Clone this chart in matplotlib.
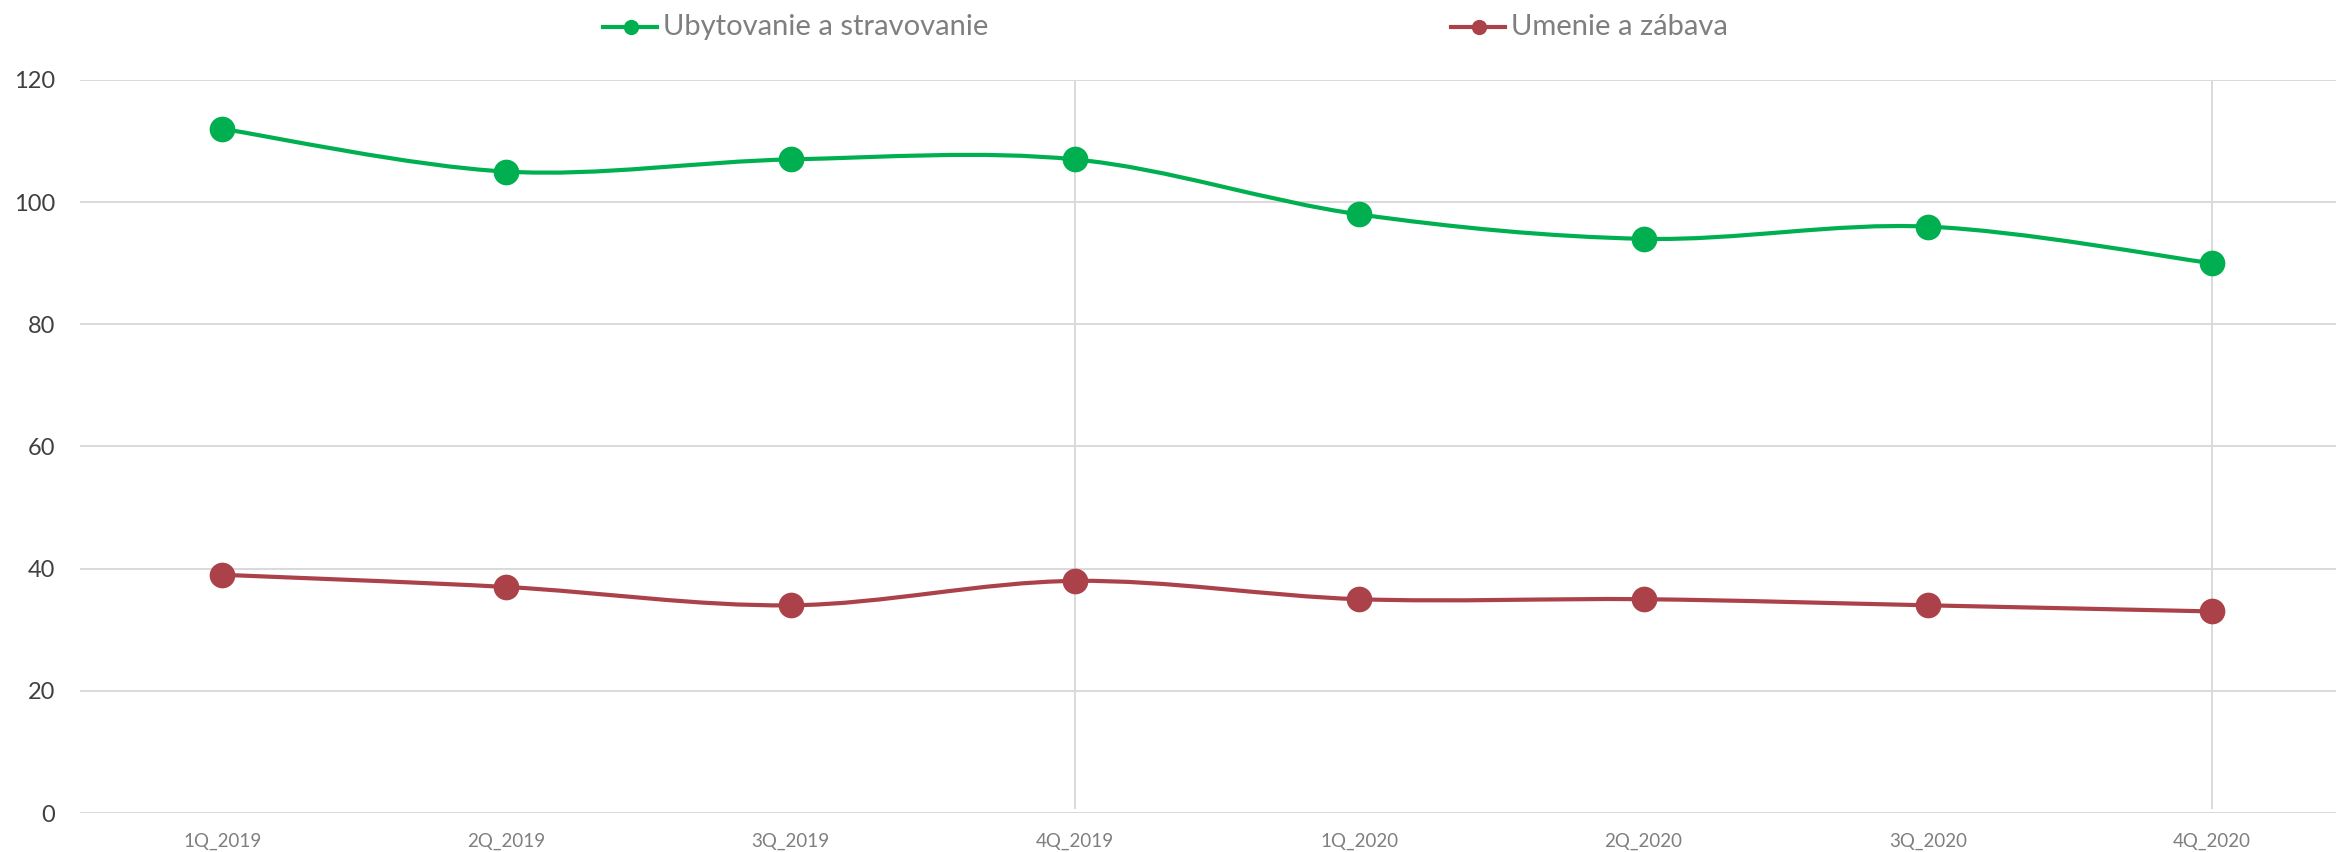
import matplotlib
matplotlib.use("Agg")
import matplotlib.pyplot as plt
from matplotlib.path import Path
from matplotlib.patches import PathPatch
from matplotlib.lines import Line2D
import numpy as np

plt.rcParams['font.family'] = ['Lato', 'DejaVu Sans']

quarters = ["1Q_2019", "2Q_2019", "3Q_2019", "4Q_2019",
            "1Q_2020", "2Q_2020", "3Q_2020", "4Q_2020"]
ubytovanie = [112, 105, 107, 107, 98, 94, 96, 90]
umenie = [39, 37, 34, 38, 35, 35, 34, 33]
series_names = ["Ubytovanie a stravovanie", "Umenie a zábava"]
yticks = [0, 20, 40, 60, 80, 100, 120]

GREEN = "#00B050"
RED = "#AB4249"
GRID = "#D9D9D9"


def smooth_path(xs, ys):
    # excel-like smoothed line: catmull-rom turned into cubic beziers
    pts = np.column_stack([xs, ys]).astype(float)
    ext = np.vstack([pts[0], pts, pts[-1]])
    verts = [tuple(pts[0])]
    codes = [Path.MOVETO]
    for i in range(1, len(ext) - 2):
        p0, p1, p2, p3 = ext[i - 1], ext[i], ext[i + 1], ext[i + 2]
        c1 = p1 + (p2 - p0) / 6.0
        c2 = p2 - (p3 - p1) / 6.0
        verts += [tuple(c1), tuple(c2), tuple(p2)]
        codes += [Path.CURVE4] * 3
    return Path(verts, codes)


W, H = 2336, 852
fig = plt.figure(figsize=(W / 100, H / 100), dpi=100)
ax = fig.add_axes([80 / W, 39 / H, (W - 80) / W, (813 - 80) / H])

x = np.arange(len(quarters))
for vals, col in [(ubytovanie, GREEN), (umenie, RED)]:
    ax.add_patch(PathPatch(smooth_path(x, vals), facecolor="none",
                           edgecolor=col, lw=3.0, zorder=3, capstyle="round"))
    ax.plot(x, vals, linestyle="none", marker="o", markersize=18.5,
            markeredgewidth=0, color=col, zorder=4)

for xv in [3, 7]:
    ax.plot([xv, xv], [0.8, 120], color=GRID, lw=1.4, zorder=1)

ax.set_ylim(0, 120)
ax.set_xlim(-0.5, (W - 222) / 284.3)
ax.set_yticks(yticks)
ax.set_xticks(x)
ax.set_xticklabels(quarters)
ax.yaxis.grid(True, color=GRID, lw=1.4, zorder=0)
ax.set_axisbelow(True)
for s in ax.spines.values():
    s.set_visible(False)
ax.tick_params(axis="both", length=0)
ax.tick_params(axis="y", labelsize=17, labelcolor="#404040", pad=18)
ax.tick_params(axis="x", labelsize=13.5, labelcolor="#7F7F7F", pad=14)

# legend drawn at the top
leg_y = 1 - 27 / H
for nm, col, xm in [(series_names[0], GREEN, 631), (series_names[1], RED, 1479)]:
    fig.add_artist(Line2D([(xm - 28) / W, (xm + 26) / W], [leg_y, leg_y],
                          color=col, lw=3.0))
    fig.add_artist(Line2D([xm / W], [leg_y], marker="o", markersize=11,
                          markeredgewidth=0, color=col, linestyle="none"))
    fig.text((xm + 32) / W, leg_y, nm, fontsize=21, color="#7F7F7F",
             va="center", ha="left")

fig.savefig("out.png", dpi=100)
